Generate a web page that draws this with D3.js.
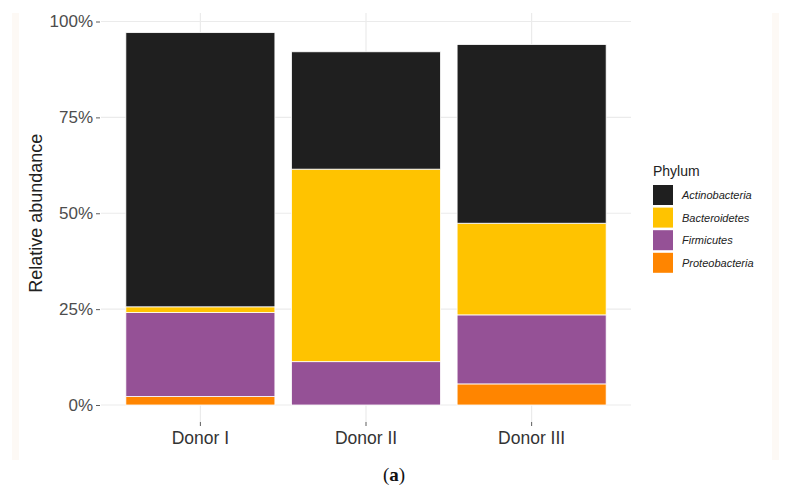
<!DOCTYPE html>
<html>
<head>
<meta charset="utf-8">
<script src="https://cdn.jsdelivr.net/npm/d3@7"></script>
<style>
  body { margin: 0; background: #fff; }
  text { font-family: "Liberation Sans", Arial, sans-serif; }
</style>
</head>
<body>
<div id="chart"></div>
<script>
// values (percent of reads)
const donors = ["Donor I", "Donor II", "Donor III"];
const phyla = ["Proteobacteria", "Firmicutes", "Bacteroidetes", "Actinobacteria"];
const proteobacteria = [2.2, 0.0, 5.5];
const firmicutes = [21.9, 11.3, 18.0];
const bacteroidetes = [1.5, 50.2, 23.9];
const actinobacteria = [71.5, 30.6, 46.6];
const yTicks = [0, 25, 50, 75, 100];

const colors = {
  Actinobacteria: "#1f1f1f",
  Bacteroidetes: "#ffc300",
  Firmicutes: "#955196",
  Proteobacteria: "#ff8500"
};

const width = 788, height = 490;
const margin = { top: 21.5, right: 157, bottom: 85, left: 101 };

const svg = d3.select("#chart").append("svg")
    .attr("width", width)
    .attr("height", height);

// faint frame strips of the figure
svg.append("rect").attr("x", 12).attr("y", 13).attr("width", 7).attr("height", 447).attr("fill", "#fdf9f5");
svg.append("rect").attr("x", 772).attr("y", 13).attr("width", 7).attr("height", 447).attr("fill", "#fdf9f5");

const x = d3.scaleBand()
    .domain(donors)
    .range([margin.left, width - margin.right])
    .paddingInner(0.1)
    .paddingOuter(0.15);

const y = d3.scaleLinear()
    .domain([0, 100])
    .range([405, margin.top]);

const panelTop = 13, panelBottom = 422;

// grid
const grid = svg.append("g");
grid.selectAll(".hg").data(yTicks).join("line")
    .attr("x1", margin.left).attr("x2", width - margin.right)
    .attr("y1", d => y(d)).attr("y2", d => y(d))
    .attr("stroke", "#ebebeb").attr("stroke-width", 1.2);
grid.selectAll(".vg").data(donors).join("line")
    .attr("x1", d => x(d) + x.bandwidth() / 2).attr("x2", d => x(d) + x.bandwidth() / 2)
    .attr("y1", panelTop).attr("y2", panelBottom)
    .attr("stroke", "#ebebeb").attr("stroke-width", 1.2);

// stacked bars
const rows = donors.map((d, i) => ({
  donor: d,
  Proteobacteria: proteobacteria[i],
  Firmicutes: firmicutes[i],
  Bacteroidetes: bacteroidetes[i],
  Actinobacteria: actinobacteria[i]
}));
const series = d3.stack().keys(phyla)(rows);

svg.append("g").selectAll("g").data(series).join("g")
    .attr("fill", s => colors[s.key])
  .selectAll("rect").data(s => s.filter(p => p[1] - p[0] > 0)).join("rect")
    .attr("x", p => x(p.data.donor))
    .attr("width", x.bandwidth())
    .attr("y", p => y(p[1]))
    .attr("height", p => y(p[0]) - y(p[1]))
    .attr("stroke", "#ffffff")
    .attr("stroke-width", 0.8);

// y axis
const yAxis = d3.axisLeft(y)
    .tickValues(yTicks)
    .tickFormat(d => d + "%")
    .tickSize(4)
    .tickPadding(3);
const ya = svg.append("g")
    .attr("transform", `translate(${margin.left - 1},0)`)
    .call(yAxis);
ya.select(".domain").remove();
ya.selectAll("line").attr("stroke", "#333").attr("stroke-width", 0.8);
ya.selectAll("text").attr("fill", "#4d4d4d").style("font-size", "17px");

// x axis
const xAxis = d3.axisBottom(x).tickSize(4).tickPadding(6);
const xa = svg.append("g")
    .attr("transform", `translate(0,${panelBottom})`)
    .call(xAxis);
xa.select(".domain").remove();
xa.selectAll("line").attr("stroke", "#333").attr("stroke-width", 0.8);
xa.selectAll("text").attr("fill", "#333").style("font-size", "17.5px");

// y title
svg.append("text")
    .attr("transform", `translate(42,${y(50)}) rotate(-90)`)
    .attr("text-anchor", "middle")
    .attr("fill", "#222")
    .style("font-size", "18px")
    .text("Relative abundance");

// legend
const legend = svg.append("g").attr("transform", "translate(653,0)");
legend.append("text")
    .attr("x", 0).attr("y", 176)
    .attr("fill", "#222")
    .style("font-size", "14px")
    .text("Phylum");
const legendOrder = ["Actinobacteria", "Bacteroidetes", "Firmicutes", "Proteobacteria"];
const li = legend.selectAll(".item").data(legendOrder).join("g")
    .attr("transform", (d, i) => `translate(0,${185 + i * 22.6})`);
li.append("rect")
    .attr("width", 20).attr("height", 20)
    .attr("fill", d => colors[d]);
li.append("text")
    .attr("x", 29).attr("y", 14)
    .attr("fill", "#222")
    .style("font-size", "11px")
    .style("font-style", "italic")
    .text(d => d);

// panel label
const lab = svg.append("text")
    .attr("x", 394).attr("y", 481)
    .attr("text-anchor", "middle")
    .attr("fill", "#111")
    .style("font-family", "'Liberation Serif', 'DejaVu Serif', serif")
    .style("font-size", "19px");
lab.append("tspan").text("(");
lab.append("tspan").style("font-weight", "bold").text("a");
lab.append("tspan").text(")");
</script>
</body>
</html>
